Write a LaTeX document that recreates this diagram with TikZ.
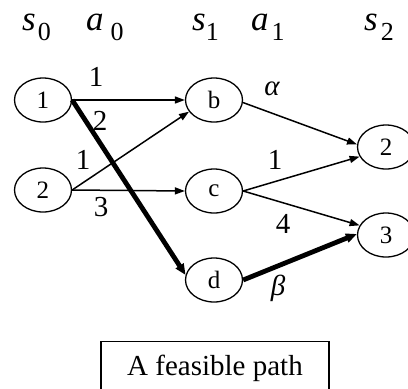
\documentclass[tikz,border=0pt]{standalone}
\usepackage{fontspec}
\setmainfont{Liberation Serif}
\usetikzlibrary{arrows.meta,shapes.geometric}
\newcommand\hdlab[3]{{\fontsize{35}{35}\selectfont\itshape #1}\kern#3\raisebox{-10pt}{\fontsize{26}{26}\selectfont #2}}
\begin{document}
\begin{tikzpicture}[x=1pt,y=-1pt,
  st/.style={ellipse, draw, line width=1.3pt, minimum width=57pt, minimum height=44pt, inner sep=0pt, font=\fontsize{25}{25}\selectfont},
  lab/.style={font=\fontsize{29}{29}\selectfont, inner sep=0pt},
  hd/.style={anchor=base west, inner sep=0pt},
  thinarr/.style={line width=1.5pt, -{Triangle[length=10pt,width=7pt]}},
  thickarr/.style={line width=4.8pt, -{Triangle[length=11pt,width=9pt]}}]
\useasboundingbox (0,0) rectangle (408,389);
% headings
\node[hd] (hs0) at (22,30) {\hdlab{s}{0}{2pt}};
\node[hd] (ha0) at (86,30) {\hdlab{a}{0}{7pt}};
\node[hd] (hs1) at (192,30) {\hdlab{s}{1}{0pt}};
\node[hd] (ha1) at (251,30) {\hdlab{a}{1}{3pt}};
\node[hd] (hs2) at (364,30) {\hdlab{s}{2}{3pt}};
% states
\node[st] (n1) at (43,100) {1};
\node[st] (n2) at (43,190) {2};
\node[st] (b) at (214,100) {b};
\node[st] (c) at (214,191) {c};
\node[st] (d) at (214,280) {d};
\node[st] (r2) at (386,147) {2};
\node[st] (r3) at (386,235) {3};
% edges
\draw[thinarr] (n1.east) -- (b.west);
\draw[thinarr] (n2.east) -- (b.205);
\draw[thinarr] (n2.east) -- (c.west);
\draw[thinarr] (b.-5) -- (r2.175);
\draw[thinarr] (c.east) -- (r2.200);
\draw[thinarr] (c.east) -- (r3.160);
\draw[thickarr] (n1.east) -- (d.170);
\draw[thickarr] (d.east) -- (r3.178);
% edge labels
\node[lab] (l1) at (96,77) {1};
\node[lab] (l2) at (100,121) {2};
\node[lab] (l3) at (83,160) {1};
\node[lab] (l4) at (101,207) {3};
\node[lab] (la) at (272,89) {\itshape α};
\node[lab] (l6) at (275,160) {1};
\node[lab] (l7) at (283,224) {4};
\node[lab] (lb) at (278,288) {\itshape β};
% caption box
\node[draw, line width=1.3pt, anchor=north, minimum width=228pt, inner xsep=0pt, inner ysep=14pt, text height=20pt, text depth=30pt, font=\fontsize{29}{29}\selectfont] (box) at (215,341) {A feasible path};
\end{tikzpicture}
\end{document}
